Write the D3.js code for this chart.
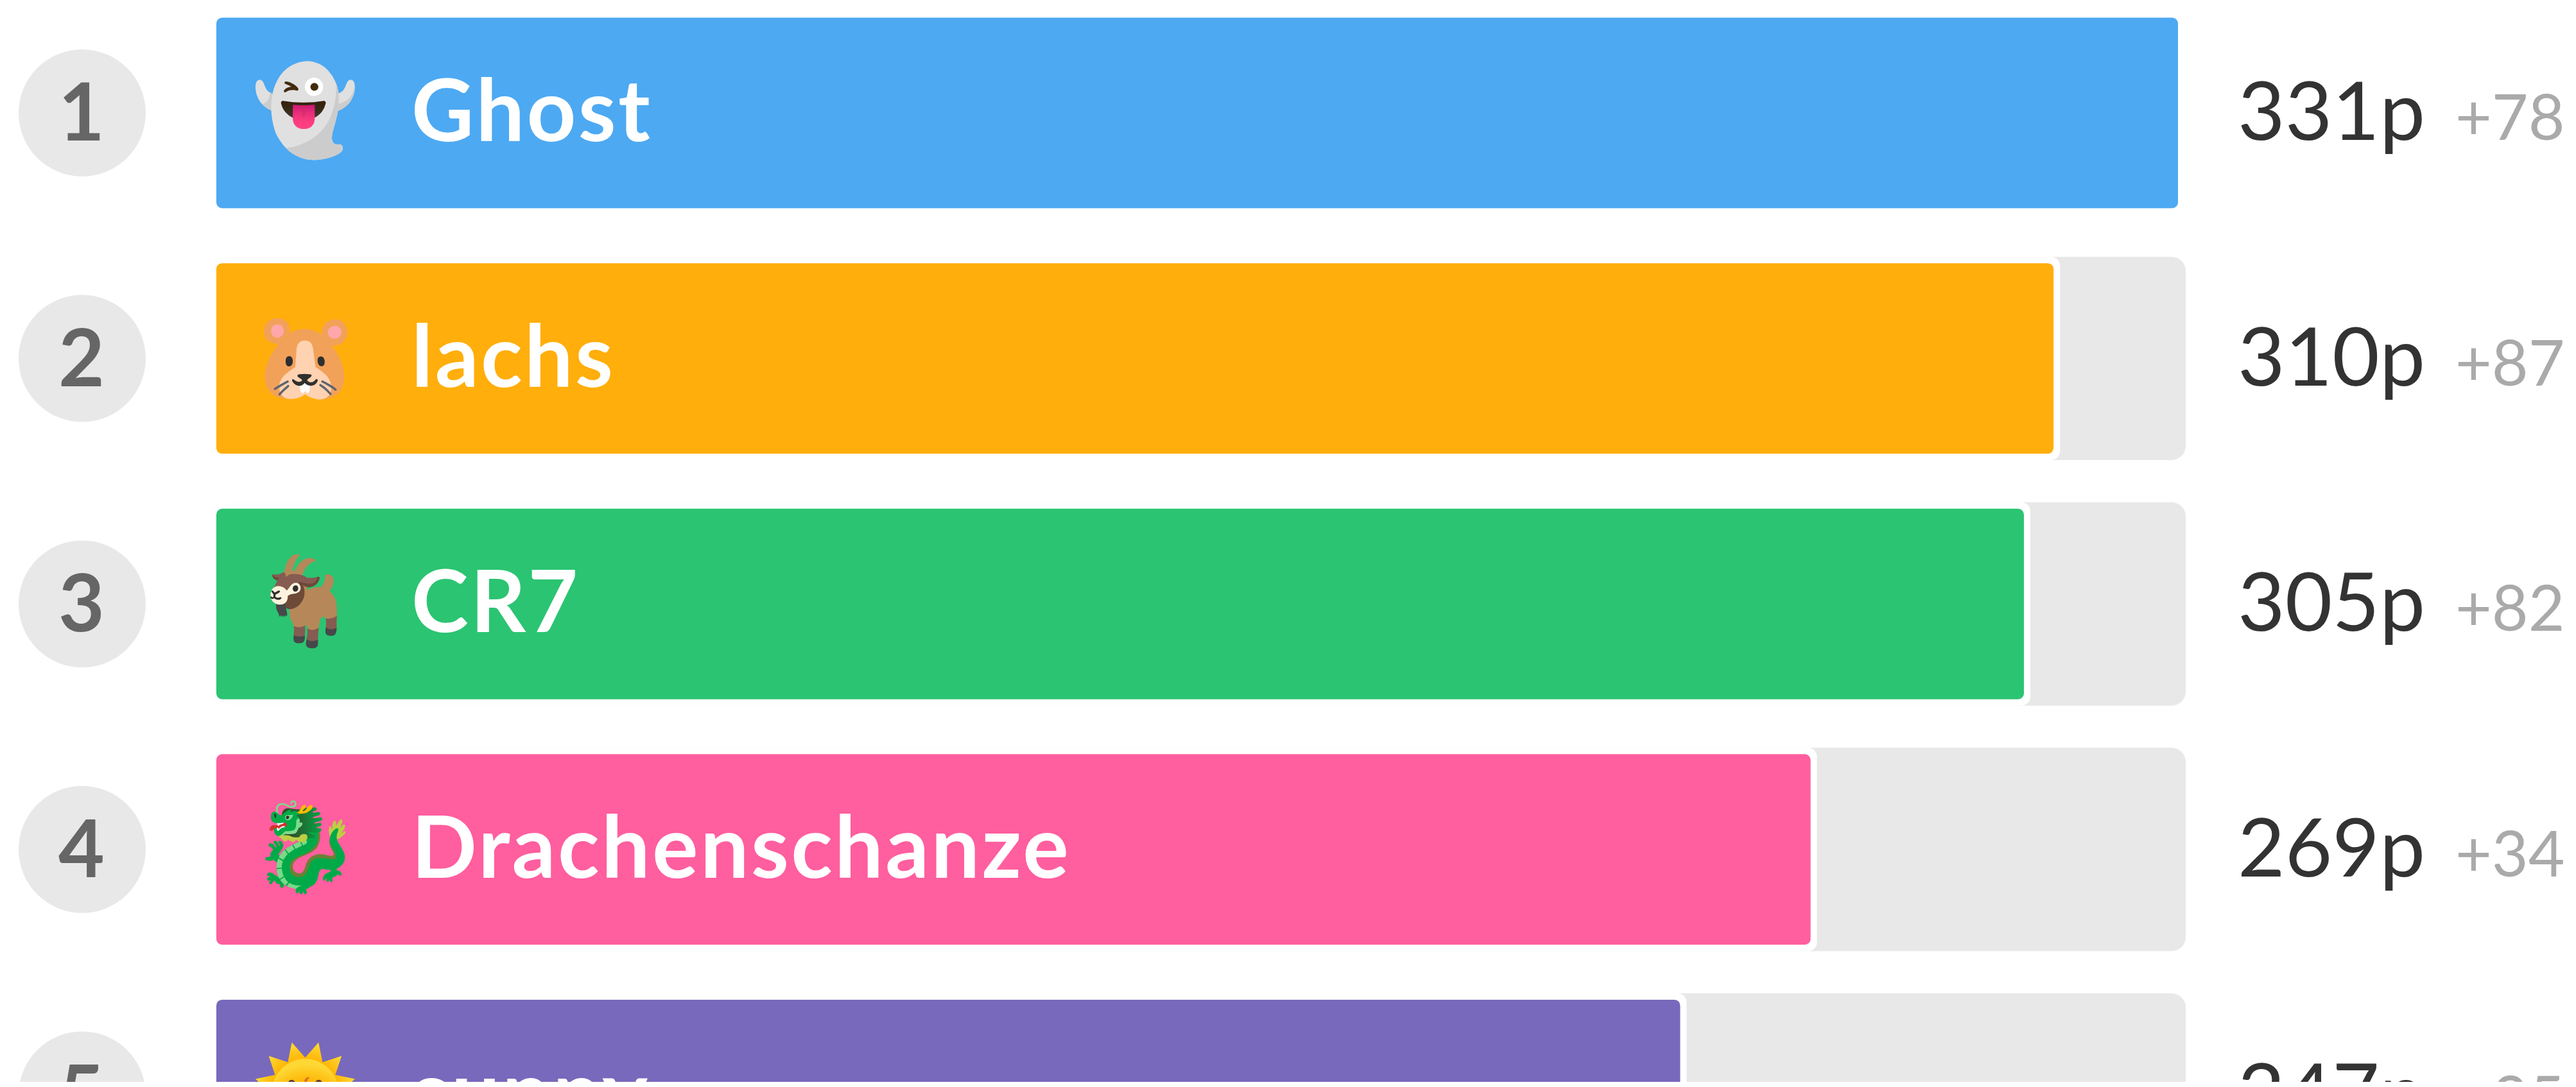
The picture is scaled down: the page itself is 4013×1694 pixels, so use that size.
<!DOCTYPE html>
<html>
<head>
    <meta charset="utf-8">
    <title>Leaderboard</title>
    <script src="https://cdn.jsdelivr.net/npm/d3@7"></script>
    <style>
        html, body { margin: 0; padding: 0; background: #fff; }
        svg { display: block; }
        text { font-family: Lato, "Noto Sans", sans-serif; }
    </style>
</head>
<body>
<script>
    var ranks = [1, 2, 3, 4, 5];
    var names = ["Ghost", "lachs", "CR7", "Drachenschanze", "sunny"];
    var icons = ["\u{1F47B}", "\u{1F439}", "\u{1F410}", "\u{1F409}", "\u{1F31E}"];
    var points = [331, 310, 305, 269, 247];
    var deltas = [78, 87, 82, 34, 35];
    var colors = ["#4da9f2", "#ffae0b", "#2bc472", "#ff5e9f", "#7869bc"];

    // the reference is a cropped screenshot, row 5 runs off at y=1686
    var width = 4013, height = 1686;

    var x = d3.scaleLinear().domain([0, 331]).range([337, 3393]);

    // one band per rank, 382.6px apart, first row centred on y=176
    var y = d3.scaleBand()
        .domain(ranks)
        .range([-15.3, -15.3 + 382.6 * ranks.length])
        .paddingInner(0.224)
        .paddingOuter(0.112);

    var svg = d3.select("body").append("svg")
        .attr("width", width)
        .attr("height", height);

    var row = svg.selectAll("g.row")
        .data(ranks)
        .enter().append("g")
        .attr("class", "row")
        .attr("transform", function(d) { return "translate(0," + y(d) + ")"; });

    var barH = y.bandwidth();

    // grey track, not visible behind the leader
    row.filter(function(d, i) { return points[i] < x.domain()[1]; })
        .append("rect")
        .attr("x", x(0))
        .attr("y", -10)
        .attr("width", 3405 - x(0))
        .attr("height", barH + 20)
        .attr("rx", 22)
        .attr("fill", "#e8e8e8");

    // white halo round the bar
    row.append("rect")
        .attr("x", x(0) - 10)
        .attr("y", -10)
        .attr("width", function(d, i) { return x(points[i]) - x(0) + 20; })
        .attr("height", barH + 20)
        .attr("rx", 14)
        .attr("fill", "#fff");

    row.append("rect")
        .attr("class", "bar")
        .attr("x", x(0))
        .attr("width", function(d, i) { return x(points[i]) - x(0); })
        .attr("height", barH)
        .attr("rx", 9)
        .attr("fill", function(d, i) { return colors[i]; });

    row.append("circle")
        .attr("cx", 128)
        .attr("cy", barH / 2)
        .attr("r", 99)
        .attr("fill", "#e8e8e8");

    row.append("text")
        .attr("x", 127)
        .attr("y", barH / 2 + 43)
        .attr("text-anchor", "middle")
        .attr("font-size", 124)
        .attr("font-weight", 700)
        .attr("fill", "#666")
        .text(function(d) { return d; });

    row.append("text")
        .attr("x", 475)
        .attr("y", barH / 2 + 42)
        .attr("text-anchor", "middle")
        .attr("font-size", 134)
        .text(function(d, i) { return icons[i]; });

    row.append("text")
        .attr("x", 641)
        .attr("y", barH / 2 + 44)
        .attr("font-size", 134)
        .attr("font-weight", 700)
        .attr("letter-spacing", 3.4)
        .attr("fill", "#fff")
        .text(function(d, i) { return names[i]; });

    row.append("text")
        .attr("x", 3486)
        .attr("y", barH / 2 + 42)
        .attr("font-size", 127)
        .attr("fill", "#333")
        .text(function(d, i) { return points[i] + "p"; });

    row.append("text")
        .attr("x", 3825)
        .attr("y", barH / 2 + 42)
        .attr("font-size", 98)
        .attr("fill", "#aaa")
        .text(function(d, i) { return "+" + deltas[i]; });
</script>
</body>
</html>
